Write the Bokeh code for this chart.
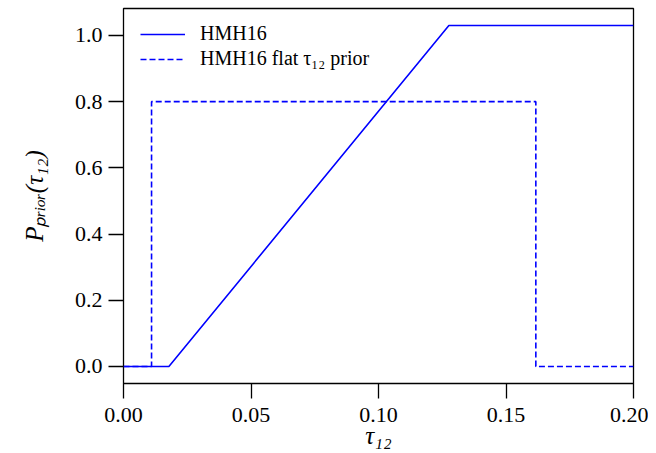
from bokeh.plotting import figure
from bokeh.models import Range1d, FixedTicker, Legend, LegendItem
from bokeh.embed import file_html
from bokeh.resources import INLINE

# Data: HMH16 prior (solid) and flat prior (dashed)
hmh_x = [0.0, 0.0178, 0.1276, 0.2]
hmh_y = [0.0, 0.0, 1.03, 1.03]
flat_x = [0.0, 0.011, 0.011, 0.1617, 0.1617, 0.2]
flat_y = [0.0, 0.0, 0.8, 0.8, 0.0, 0.0]

x_ticks = [0.0, 0.05, 0.10, 0.15, 0.20]
x_tick_labels = ["0.00", "0.05", "0.10", "0.15", "0.20"]
y_ticks = [0.0, 0.2, 0.4, 0.6, 0.8, 1.0]
y_tick_labels = ["0.0", "0.2", "0.4", "0.6", "0.8", "1.0"]
series_names = ["HMH16", "HMH16 flat τ₁₂ prior"]

FONT = "Liberation Serif"
BLUE = "#0000ff"

p = figure(width=648, height=452, output_backend="svg", toolbar_location=None,
           x_range=Range1d(0.0, 0.2), y_range=Range1d(-0.0515, 1.0815),
           min_border_left=123, min_border_right=15, min_border_top=8, min_border_bottom=69)

p.grid.visible = False
p.outline_line_color = "black"
p.outline_line_width = 1.3
p.background_fill_color = "white"
p.border_fill_color = "white"

r1 = p.line(hmh_x, hmh_y, line_color=BLUE, line_width=1.6)
r2 = p.line(flat_x, flat_y, line_color=BLUE, line_width=1.6, line_dash="6 3")

for ax, ticks, labels in ((p.xaxis[0], x_ticks, x_tick_labels), (p.yaxis[0], y_ticks, y_tick_labels)):
    ax.ticker = FixedTicker(ticks=ticks)
    ax.major_label_overrides = {t: l for t, l in zip(ticks, labels)}
    ax.axis_line_color = None
    ax.major_tick_line_color = "black"
    ax.major_tick_line_width = 1.3
    ax.major_tick_out = 15
    ax.major_tick_in = 0
    ax.minor_tick_line_color = None
    ax.major_label_text_font = FONT
    ax.major_label_text_font_size = "22px"
    ax.major_label_text_color = "black"
    ax.major_label_standoff = 6
    ax.axis_label_text_font = FONT
    ax.axis_label_text_font_style = "italic"
    ax.axis_label_text_color = "black"
    ax.axis_label_text_font_size = "25px"

p.xaxis[0].major_label_standoff = 9
p.xaxis[0].axis_label = "τ₁₂"
p.xaxis[0].axis_label_standoff = -3
p.yaxis[0].axis_label = "Pₚᵣᵢₒᵣ(τ₁₂)"
p.yaxis[0].axis_label_standoff = 24

legend = Legend(items=[LegendItem(label=series_names[0], renderers=[r1]),
                       LegendItem(label=series_names[1], renderers=[r2])],
                location=(17, 313))
legend.border_line_color = None
legend.background_fill_alpha = 0
legend.margin = 0
legend.padding = 0
legend.spacing = 2
legend.glyph_width = 45
legend.glyph_height = 20
legend.label_height = 20
legend.label_standoff = 15
legend.label_text_font = FONT
legend.label_text_font_size = "20px"
legend.label_text_color = "black"
p.add_layout(legend)

open("out.html", "w").write(file_html(p, INLINE))
